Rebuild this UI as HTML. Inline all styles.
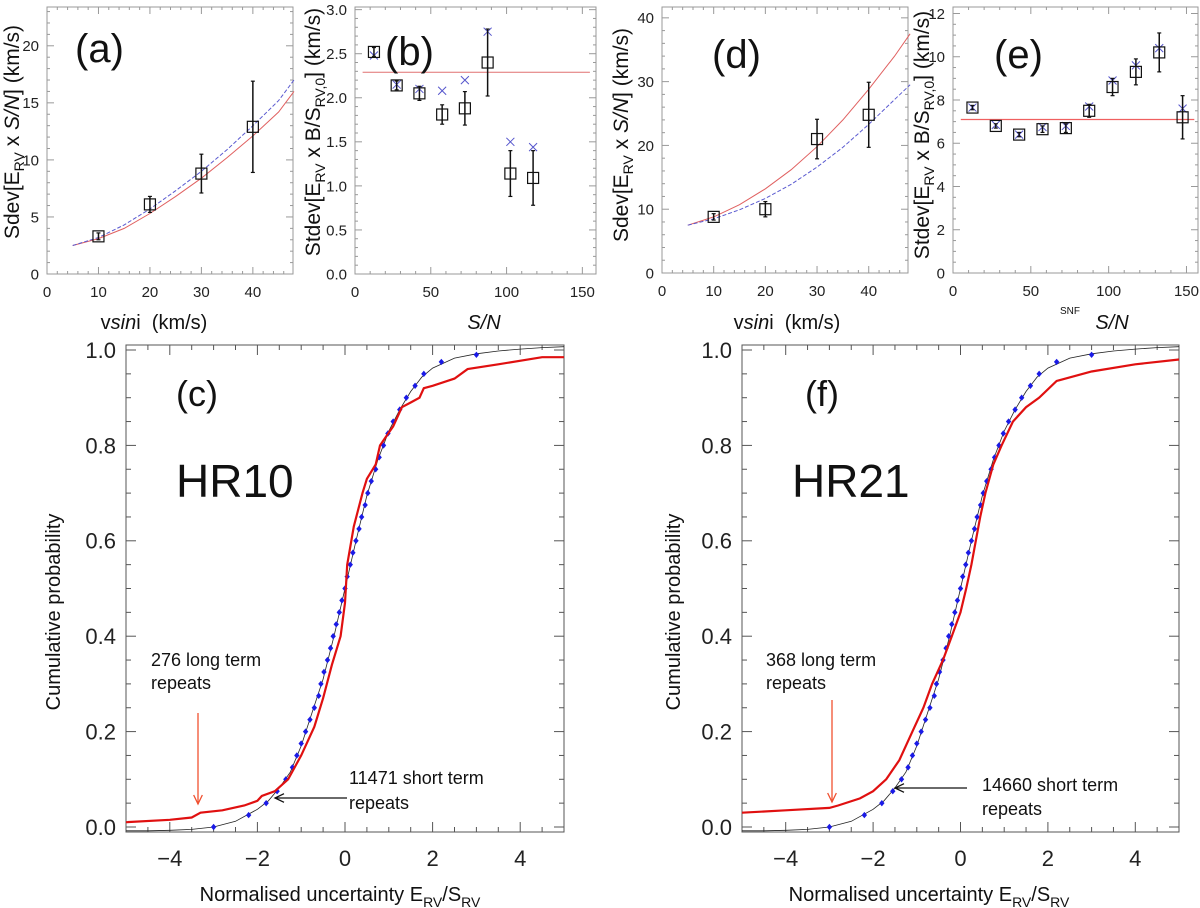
<!DOCTYPE html>
<html><head><meta charset="utf-8"><style>
html,body{margin:0;padding:0;background:#fff;}
svg{display:block;font-family:"Liberation Sans",sans-serif;}
</style></head><body>
<svg id="fig" width="1200" height="908" viewBox="0 0 1200 908" xmlns="http://www.w3.org/2000/svg"></svg>
<script>
// ---- Panel (a) data ----
const aX=[10,20,30,40];
const aY=[3.3,6.1,8.8,12.9];
const aErr=[0.3,0.7,1.7,4.0];
const aFitX=[5,10,15,20,25,30,35,40,45,48];
const aRed=[2.5,3.1,4.0,5.3,6.8,8.4,10.2,12.1,14.2,16.0];
const aBlue=[2.5,3.2,4.3,5.7,7.3,9.0,10.9,13.0,15.2,17.0];
// ---- Panel (b) data ----
const bX=[12.5,27.5,42.5,57.5,72.5,87.5,102.5,117.5];
const bY=[2.52,2.14,2.05,1.81,1.88,2.4,1.14,1.09];
const bErr=[0.05,0.05,0.08,0.11,0.19,0.38,0.26,0.31];
const bCross=[2.48,2.15,2.1,2.08,2.2,2.75,1.5,1.44];
const bLevel=[2.29];
// ---- Panel (d) data ----
const dX=[10,20,30,40];
const dY=[8.8,10.0,21.0,24.8];
const dErr=[0.5,1.2,3.1,5.1];
const dFitX=[5,10,15,20,25,30,35,40,45,48];
const dRed=[7.5,8.8,10.7,13.2,16.2,19.8,24.0,28.8,34.0,37.5];
const dBlue=[7.5,8.5,9.9,11.7,13.9,16.6,19.7,23.3,27.2,29.5];
// ---- Panel (e) data ----
const eX=[12.5,27.5,42.5,57.5,72.5,87.5,102.5,117.5,132.5,147.5];
const eY=[7.65,6.8,6.4,6.65,6.7,7.5,8.6,9.3,10.2,7.2];
const eErr=[0.1,0.1,0.1,0.15,0.2,0.3,0.4,0.6,0.9,1.0];
const eCross=[7.65,6.85,6.4,6.75,6.8,7.7,8.9,9.6,10.4,7.6];
const eLevel=[7.1];
// ---- Panel (c)/(f) data ----
const normX=[-5,-4.5,-4,-3.5,-3,-2.5,-2,-1.75,-1.5,-1.25,-1,-0.75,-0.5,-0.25,0,0.25,0.5,0.75,1,1.25,1.5,1.75,2,2.5,3,3.5,4,4.5,5];
const normY=[-0.008,-0.008,-0.007,-0.005,0.0,0.012,0.037,0.055,0.082,0.115,0.17,0.24,0.31,0.4,0.5,0.6,0.695,0.77,0.83,0.875,0.913,0.943,0.962,0.983,0.992,0.998,1.002,1.005,1.007];
const dotX=[-3,-2.2,-1.8,-1.55,-1.35,-1.2,-1.1,-1.0,-0.9,-0.8,-0.7,-0.6,-0.55,-0.48,-0.4,-0.33,-0.27,-0.2,-0.13,-0.07,0,0.05,0.12,0.18,0.25,0.32,0.38,0.46,0.52,0.6,0.7,0.78,0.88,0.98,1.1,1.25,1.4,1.6,1.8,2.2,3.0];
const dotY=[0.0,0.025,0.05,0.075,0.1,0.125,0.15,0.175,0.2,0.225,0.25,0.275,0.3,0.325,0.35,0.375,0.4,0.425,0.45,0.475,0.5,0.525,0.55,0.575,0.6,0.625,0.65,0.675,0.7,0.725,0.75,0.775,0.8,0.825,0.85,0.875,0.9,0.925,0.95,0.975,0.99];
const cRedX=[-5,-4,-3.5,-3.3,-2.8,-2.3,-2,-1.9,-1.6,-1.3,-1,-0.7,-0.5,-0.3,-0.1,0,0.05,0.2,0.4,0.5,0.7,0.8,1.1,1.3,1.5,1.7,1.8,2,2.5,2.8,3.5,4.5,5];
const cRedY=[0.01,0.015,0.02,0.03,0.035,0.045,0.055,0.065,0.075,0.1,0.15,0.21,0.27,0.34,0.4,0.47,0.55,0.63,0.7,0.73,0.76,0.8,0.84,0.88,0.89,0.9,0.92,0.925,0.94,0.96,0.97,0.985,0.985];
const fRedX=[-5,-4,-3,-2.8,-2.3,-2,-1.7,-1.4,-1.1,-0.85,-0.65,-0.4,-0.2,0,0.13,0.25,0.35,0.45,0.57,0.75,0.94,1.2,1.5,1.8,2.2,3,4,5];
const fRedY=[0.03,0.035,0.04,0.045,0.06,0.075,0.1,0.14,0.2,0.25,0.3,0.35,0.4,0.45,0.5,0.55,0.6,0.65,0.7,0.76,0.8,0.85,0.88,0.9,0.935,0.955,0.97,0.98];

const svg=document.getElementById('fig');
const NS='http://www.w3.org/2000/svg';
function mk(tag,attrs,parent){const e=document.createElementNS(NS,tag);for(const k in attrs)e.setAttribute(k,attrs[k]);(parent||svg).appendChild(e);return e;}

function panel(p){
  const g=mk('g',{});
  
  
  const sx=v=>p.x0+(v-p.xmin)/(p.xmax-p.xmin)*(p.x1-p.x0);
  const sy=v=>p.y0-(v-p.ymin)/(p.ymax-p.ymin)*(p.y0-p.y1);
  const box=mk('rect',{x:p.x0,y:p.y1,width:p.x1-p.x0,height:p.y0-p.y1,fill:'none',stroke:p.boxCol,'stroke-width':1},g);
  
  
  const xs0=Math.ceil(p.xmin/p.xminor-1e-9)*p.xminor, ys0=Math.ceil(p.ymin/p.yminor-1e-9)*p.yminor;
  for(let v=xs0;v<=p.xmax+1e-9;v+=p.xminor){const X=sx(v);const big=Math.abs(v/p.xmajor-Math.round(v/p.xmajor))<1e-6;const L=big?p.maj:p.min;
    mk('line',{x1:X,y1:p.y0,x2:X,y2:p.y0-L,stroke:p.boxCol,'stroke-width':1},g);mk('line',{x1:X,y1:p.y1,x2:X,y2:p.y1+L,stroke:p.boxCol,'stroke-width':1},g);}
  for(let v=ys0;v<=p.ymax+1e-9;v+=p.yminor){const Y=sy(v);const big=Math.abs(v/p.ymajor-Math.round(v/p.ymajor))<1e-6;const L=big?p.maj:p.min;
    mk('line',{x1:p.x0,y1:Y,x2:p.x0+L,y2:Y,stroke:p.boxCol,'stroke-width':1},g);mk('line',{x1:p.x1,y1:Y,x2:p.x1-L,y2:Y,stroke:p.boxCol,'stroke-width':1},g);}
  p.xticks.forEach((v,i)=>{const t=mk('text',{x:sx(v),y:p.y0+p.xlabOff,'text-anchor':'middle','font-size':p.tfs,fill:'#222'},g);t.textContent=p.xtickLabels[i];
    });
  p.yticks.forEach((v,i)=>{const t=mk('text',{x:p.x0-p.ylabOff,y:sy(v)+p.tfs*0.36,'text-anchor':'end','font-size':p.tfs,fill:'#222'},g);t.textContent=p.ytickLabels[i];
    });
  return {g,sx,sy};
}
function poly(P,xs,ys,attrs,name){const pts=xs.map((x,i)=>P.sx(x).toFixed(1)+','+P.sy(ys[i]).toFixed(1)).join(' ');
  const e=mk('polyline',Object.assign({points:pts,fill:'none'},attrs),P.g);return e;}
function squares(P,xs,ys,errs,name){xs.forEach((x,i)=>{const X=P.sx(x),Y=P.sy(ys[i]);
  const l=mk('line',{x1:X,y1:P.sy(ys[i]-errs[i]),x2:X,y2:P.sy(ys[i]+errs[i]),stroke:'#111','stroke-width':1.5},P.g);
  
  mk('line',{x1:X-2,y1:P.sy(ys[i]-errs[i]),x2:X+2,y2:P.sy(ys[i]-errs[i]),stroke:'#111','stroke-width':1.2},P.g);
  mk('line',{x1:X-2,y1:P.sy(ys[i]+errs[i]),x2:X+2,y2:P.sy(ys[i]+errs[i]),stroke:'#111','stroke-width':1.2},P.g);
  const r=mk('rect',{x:X-5.5,y:Y-5.5,width:11,height:11,fill:'none',stroke:'#111','stroke-width':1.2},P.g);
  });}
function crosses(P,xs,ys,name){xs.forEach((x,i)=>{const X=P.sx(x),Y=P.sy(ys[i]);
  const e=mk('path',{d:`M${X-4},${Y-4}L${X+4},${Y+4}M${X-4},${Y+4}L${X+4},${Y-4}`,stroke:'#5555cc','stroke-width':1},P.g);
  });}
function text(x,y,s,fs,attrs,name){const t=mk('text',Object.assign({x:x,y:y,'font-size':fs,fill:'#111'},attrs||{}));t.innerHTML=s;return t;}

const topBase={y0:274,y1:7,boxCol:'#999',maj:7,min:3,tfs:15,xlabOff:23,ylabOff:8};
const A=panel(Object.assign({},topBase,{name:'panel-a',x0:47,x1:293,xmin:0,xmax:47.8,ymin:0,ymax:23.4,xmajor:10,xminor:2,ymajor:5,yminor:1,
  xticks:[0,10,20,30,40],xtickLabels:['0','10','20','30','40'],yticks:[0,5,10,15,20],ytickLabels:['0','5','10','15','20']}));
poly(A,aFitX,aRed,{stroke:'#e06060','stroke-width':1},'red-fit-curve');
poly(A,aFitX,aBlue,{stroke:'#5a5ad0','stroke-width':1,'stroke-dasharray':'4,2'},'blue-fit-curve');
squares(A,aX,aY,aErr,'data-point');
const B=panel(Object.assign({},topBase,{name:'panel-b',x0:355,x1:596,xmin:0,xmax:159,ymin:0,ymax:3.03,xmajor:50,xminor:10,ymajor:0.5,yminor:0.1,
  xticks:[0,50,100,150],xtickLabels:['0','50','100','150'],yticks:[0,0.5,1,1.5,2,2.5,3],ytickLabels:['0.0','0.5','1.0','1.5','2.0','2.5','3.0']}));
poly(B,[5,155],[bLevel[0],bLevel[0]],{stroke:'#e07070','stroke-width':1},'mean-level-line');
crosses(B,bX,bCross,'cross-point');
squares(B,bX,bY,bErr,'data-point');
const D=panel(Object.assign({},topBase,{name:'panel-d',x0:662,x1:908,y0:273,xmin:0,xmax:47.6,ymin:0,ymax:41.7,xmajor:10,xminor:2,ymajor:10,yminor:2,
  xticks:[0,10,20,30,40],xtickLabels:['0','10','20','30','40'],yticks:[0,10,20,30,40],ytickLabels:['0','10','20','30','40']}));
poly(D,dFitX,dRed,{stroke:'#e06060','stroke-width':1},'red-fit-curve');
poly(D,dFitX,dBlue,{stroke:'#5a5ad0','stroke-width':1,'stroke-dasharray':'4,2'},'blue-fit-curve');
squares(D,dX,dY,dErr,'data-point');
const E=panel(Object.assign({},topBase,{name:'panel-e',x0:953,x1:1198,y0:273,xmin:0,xmax:157.4,ymin:0,ymax:12.3,xmajor:50,xminor:10,ymajor:2,yminor:0.5,
  xticks:[0,50,100,150],xtickLabels:['0','50','100','150'],yticks:[0,2,4,6,8,10,12],ytickLabels:['0','2','4','6','8','10','12']}));
poly(E,[5,155],[eLevel[0],eLevel[0]],{stroke:'#f06060','stroke-width':1.2},'mean-level-line');
crosses(E,eX,eCross,'cross-point');
squares(E,eX,eY,eErr,'data-point');

text(75,62,'(a)',40,{},'panel-a-label');
text(385,65,'(b)',40,{},'panel-b-label');
text(712,68,'(d)',40,{},'panel-d-label');
text(994,68,'(e)',40,{},'panel-e-label');
const sub='<tspan font-size="14" dy="5">RV</tspan><tspan dy="-5">';
text(19,132,'Sdev[E'+sub+' x <tspan font-style="italic">S/N</tspan>] (km/s)</tspan>',21,{transform:'rotate(-90 19 132)','text-anchor':'middle'},'y-axis-title-a');
text(320,132,'Stdev[E'+sub+' x B/S</tspan><tspan font-size="14" dy="5">RV,0</tspan><tspan dy="-5">] (km/s)</tspan>',21,{transform:'rotate(-90 320 132)','text-anchor':'middle'},'y-axis-title-b');
text(628,135,'Sdev[E'+sub+' x <tspan font-style="italic">S/N</tspan>] (km/s)</tspan>',21,{transform:'rotate(-90 628 135)','text-anchor':'middle'},'y-axis-title-d');
text(929,135,'Stdev[E'+sub+' x B/S</tspan><tspan font-size="14" dy="5">RV,0</tspan><tspan dy="-5">] (km/s)</tspan>',21,{transform:'rotate(-90 929 135)','text-anchor':'middle'},'y-axis-title-e');
text(154,329,'v<tspan font-style="italic">sin</tspan>i&#160; (km/s)',20,{'text-anchor':'middle'},'x-axis-title-a');
text(484,329,'<tspan font-style="italic">S/N</tspan>',20,{'text-anchor':'middle'},'x-axis-title-b');
text(787,329,'v<tspan font-style="italic">sin</tspan>i&#160; (km/s)',20,{'text-anchor':'middle'},'x-axis-title-d');
text(1112,329,'<tspan font-style="italic">S/N</tspan>',20,{'text-anchor':'middle'},'x-axis-title-e');
text(1070,314,'SNF',10,{'text-anchor':'middle'},'snf-label');

const botBase={y0:832,y1:345,ymin:-0.0105,ymax:1.0105,boxCol:'#555',maj:10,min:5,tfs:22,xlabOff:34,ylabOff:10,xmin:-5,xmax:5,xmajor:2,xminor:0.5,ymajor:0.2,yminor:0.05,
  xticks:[-4,-2,0,2,4],xtickLabels:['\u22124','\u22122','0','2','4'],yticks:[0,0.2,0.4,0.6,0.8,1.0],ytickLabels:['0.0','0.2','0.4','0.6','0.8','1.0']};
const C=panel(Object.assign({},botBase,{name:'panel-c',x0:126,x1:564}));
const F=panel(Object.assign({},botBase,{name:'panel-f',x0:742,x1:1179}));
[[C,cRedX,cRedY],[F,fRedX,fRedY]].forEach(([P,rx,ry])=>{
  poly(P,normX,normY,{stroke:'#222','stroke-width':0.8},'gaussian-cdf-line');
  dotX.forEach((x,i)=>{const X=P.sx(x),Y=P.sy(dotY[i]);
    const d=mk('path',{d:`M${X},${Y-3.2}L${X+2.7},${Y}L${X},${Y+3.2}L${X-2.7},${Y}Z`,fill:'#1a1ae6'},P.g);
    });
  poly(P,rx,ry,{stroke:'#e01010','stroke-width':2.2},'long-term-cdf-line');
});
text(176,406,'(c)',36,{},'panel-c-label');
text(176,497,'HR10',46,{},'hr10-label');
text(805,406,'(f)',36,{},'panel-f-label');
text(792,497,'HR21',46,{},'hr21-label');
text(60,612,'Cumulative probability',20,{transform:'rotate(-90 60 612)','text-anchor':'middle'},'y-axis-title-c');
text(680,612,'Cumulative probability',20,{transform:'rotate(-90 680 612)','text-anchor':'middle'},'y-axis-title-f');
const sub2='<tspan font-size="14" dy="6">RV</tspan><tspan dy="-6">';
text(340,901,'Normalised uncertainty E'+sub2+'/S</tspan>'+sub2+'</tspan>',20,{'text-anchor':'middle'},'x-axis-title-c');
text(929,901,'Normalised uncertainty E'+sub2+'/S</tspan>'+sub2+'</tspan>',20,{'text-anchor':'middle'},'x-axis-title-f');
text(151,666,'276 long term',18,{},'annotation-long-c');
text(151,689,'repeats',18,{},'annotation-long-c2');
text(349,784,'11471 short term',18,{},'annotation-short-c');
text(349,809,'repeats',18,{},'annotation-short-c2');
text(766,666,'368 long term',18,{},'annotation-long-f');
text(766,689,'repeats',18,{},'annotation-long-f2');
text(982,791,'14660 short term',18,{},'annotation-short-f');
text(982,815,'repeats',18,{},'annotation-short-f2');
function arrow(x1,y1,x2,y2,col,name){const e=mk('line',{x1,y1,x2,y2,stroke:col,'stroke-width':1.3});
  const a=Math.atan2(y2-y1,x2-x1),h=10;
  mk('polyline',{points:`${x2-h*Math.cos(a-0.45)},${y2-h*Math.sin(a-0.45)} ${x2},${y2} ${x2-h*Math.cos(a+0.45)},${y2-h*Math.sin(a+0.45)}`,fill:'none',stroke:col,'stroke-width':1.3});}
arrow(198,713,198,804,'#f05030','arrow-long-c');
arrow(347,798,275,798,'#111','arrow-short-c');
arrow(832,700,832,802,'#f05030','arrow-long-f');
arrow(967,788,895,788,'#111','arrow-short-f');
</script>
</body></html>
